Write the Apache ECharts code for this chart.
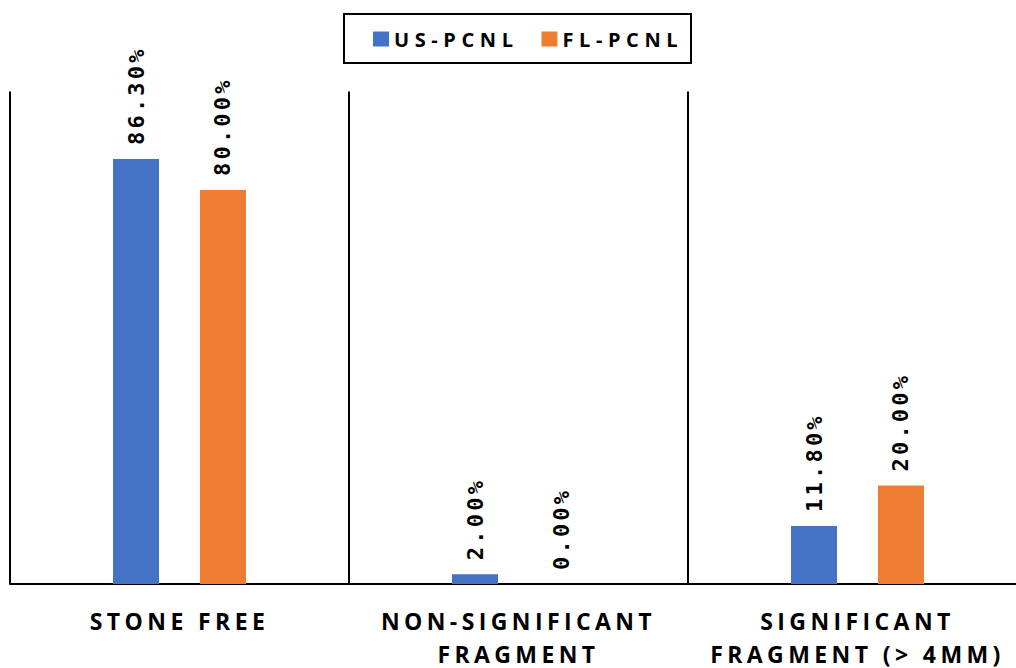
<!DOCTYPE html>
<html>
<head>
<meta charset="utf-8">
<script src="https://cdn.jsdelivr.net/npm/echarts@6/dist/echarts.min.js"></script>
<style>
  html, body { margin: 0; padding: 0; background: #fff; }
  #chart { width: 1016px; height: 668px; }
  /* wide character spacing for the different text groups */
  #chart text[style*="23px"] { letter-spacing: 4.4px; }
  #chart text[style*="20px"] { letter-spacing: 5.6px; }
  #chart text[style*="Mono"] { letter-spacing: 3.2px; }
</style>
</head>
<body>
<div id="chart"></div>
<script>
const categories = ['STONE FREE', 'NON-SIGNIFICANT\nFRAGMENT', 'SIGNIFICANT\nFRAGMENT (> 4MM)'];
const seriesNames = ['US-PCNL', 'FL-PCNL'];
const usPcnl = [86.3, 2.0, 11.8];
const flPcnl = [80.0, 0.0, 20.0];

const colors = ['#4472C4', '#ED7D31'];

const chart = echarts.init(document.getElementById('chart'), null, { renderer: 'svg' });

const labelStyle = {
  show: true,
  position: 'top',
  rotate: 90,
  align: 'left',
  verticalAlign: 'middle',
  distance: 14,
  color: '#000',
  fontFamily: 'DejaVu Sans Mono',
  fontWeight: 'bold',
  fontSize: 22,
  formatter: p => p.value.toFixed(2) + '%'
};

chart.setOption({
  animation: false,
  backgroundColor: '#fff',
  color: colors,
  legend: {
    data: seriesNames,
    left: 344,
    top: 14,
    // item gap and right padding leave room for the spaced-out lettering
    padding: [15, 47, 14, 29],
    borderColor: '#000',
    borderWidth: 2,
    itemWidth: 16,
    itemHeight: 15,
    itemGap: 62,
    icon: 'rect',
    textStyle: {
      color: '#000',
      fontFamily: 'Open Sans',
      fontWeight: 'bold',
      fontSize: 20
    }
  },
  grid: { left: 10, width: 1017, top: 91.5, bottom: 84, outerBoundsMode: 'none', containLabel: false },
  xAxis: {
    type: 'category',
    data: categories,
    boundaryGap: true,
    axisLine: { show: true, lineStyle: { color: '#000', width: 2 } },
    axisTick: { show: false },
    splitLine: { show: true, lineStyle: { color: '#000', width: 2 } },
    axisLabel: {
      color: '#000',
      fontFamily: 'Open Sans',
      fontWeight: 'bold',
      fontSize: 23,
      lineHeight: 33,
      margin: 20,
      interval: 0
    }
  },
  yAxis: {
    type: 'value',
    min: 0,
    max: 100,
    show: false,
    splitLine: { show: false }
  },
  series: [
    {
      name: seriesNames[0],
      type: 'bar',
      data: usPcnl,
      barWidth: 46,
      barGap: '89%',
      label: labelStyle
    },
    {
      name: seriesNames[1],
      type: 'bar',
      data: flPcnl,
      barWidth: 46,
      barGap: '89%',
      label: labelStyle
    }
  ]
});
</script>
</body>
</html>
